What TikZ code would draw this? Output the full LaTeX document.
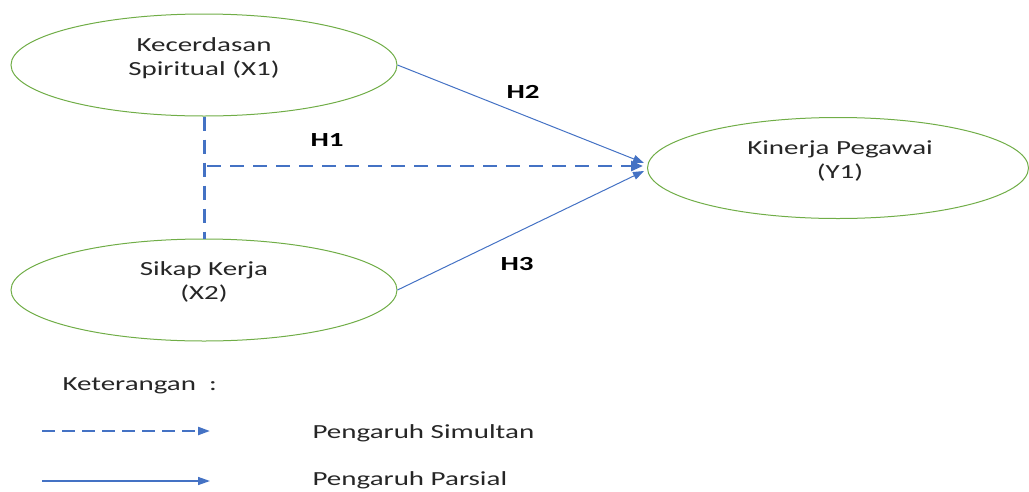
\documentclass[tikz,border=0pt]{standalone}
\usepackage{fontspec}
\usepackage{graphicx}
\setmainfont{Carlito}
\usetikzlibrary{arrows.meta,shapes.geometric}
\definecolor{lineblue}{HTML}{4472C4}
\definecolor{ellgreen}{HTML}{70AD47}
\definecolor{txtgray}{HTML}{262626}
\newcommand\wx[1]{\scalebox{1.45}[1]{#1}}
\tikzset{
  var/.style={ellipse, draw=ellgreen, line width=1pt, minimum width=386pt, minimum height=102pt, inner sep=0pt},
  vtext/.style={text=txtgray, align=center, font=\fontsize{20}{24}\selectfont},
  hlab/.style={text=black, font=\fontsize{20}{24}\selectfont\bfseries},
  legtext/.style={text=txtgray, anchor=west, font=\fontsize{20}{24}\selectfont},
  partial/.style={draw=lineblue, line width=1pt, -{Triangle[length=11pt,width=8pt]}},
  simul/.style={draw=lineblue, line width=2.8pt, dash pattern=on 14pt off 9pt, -{Triangle[length=12pt,width=10pt]}},
  simulline/.style={draw=lineblue, line width=3pt, dash pattern=on 14pt off 9pt},
}
\begin{document}
\begin{tikzpicture}[x=1pt,y=-1pt]
\useasboundingbox (0,0) rectangle (1029,491);
% ellipses
\node[var] (x1) at (204,65) {};
\node[var] (x2) at (204,290) {};
\node[var, minimum width=381pt, minimum height=101pt] (y1) at (838,168) {};
% texts
\node[vtext] (tx1) at (204,58) {\wx{Kecerdasan}\\\wx{Spiritual (X1)}};
\node[vtext] (tx2) at (204,282) {\wx{Sikap Kerja}\\\wx{(X2)}};
\node[vtext] (ty1) at (840,161) {\wx{Kinerja Pegawai}\\\wx{(Y1)}};
% connectors
\coordinate (jn) at (204,166);
\draw[simulline] (x1.south) -- (x2.north);
\draw[simul] ([xshift=3pt]jn) -- ([xshift=-4pt,yshift=2pt]y1.west);
\draw[partial] (x1.east) -- ([xshift=-3pt,yshift=5pt]y1.west);
\draw[partial] (x2.east) -- ([xshift=-3pt,yshift=-3pt]y1.west);
% hypothesis labels
\node[hlab] (h1) at (327,140) {\wx{H1}};
\node[hlab] (h2) at (523,92) {\wx{H2}};
\node[hlab] (h3) at (517,264) {\wx{H3}};
% legend
\node[legtext] (ket) at (59,386) {\wx{Keterangan\ \ :}};
\coordinate (ls1) at (42,431);
\coordinate (le1) at (210,431);
\coordinate (ls2) at (42,481);
\coordinate (le2) at (210,481);
\draw[simul, line width=2.2pt, dash pattern=on 13pt off 7pt, -{Triangle[length=12pt,width=8pt]}] (ls1) -- (le1);
\draw[partial, line width=1.5pt, -{Triangle[length=12pt,width=8pt]}] (ls2) -- (le2);
\node[legtext] (lt1) at (309,433) {\wx{Pengaruh Simultan}};
\node[legtext] (lt2) at (309,480) {\wx{Pengaruh Parsial}};
\end{tikzpicture}
\end{document}
